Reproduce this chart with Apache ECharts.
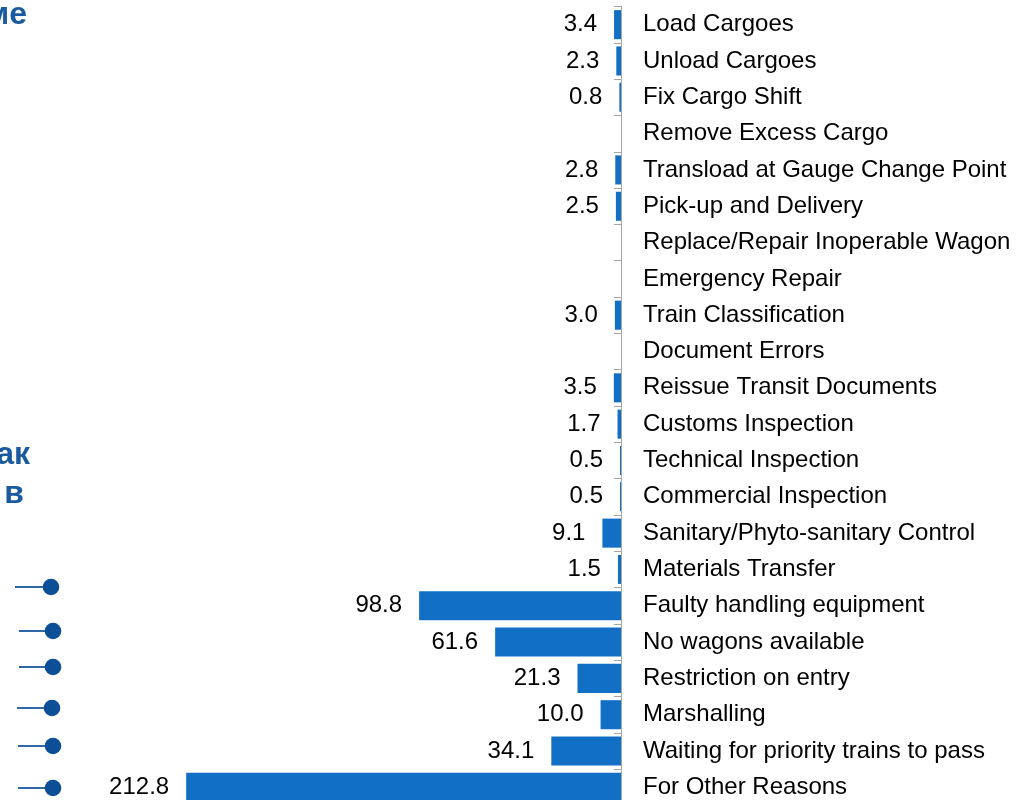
<!DOCTYPE html>
<html>
<head>
<meta charset="utf-8">
<script src="https://cdn.jsdelivr.net/npm/echarts@6/dist/echarts.min.js"></script>
<style>
html,body{margin:0;padding:0;background:#fff;overflow:hidden;}
#chart{width:1033px;height:830px;}
</style>
</head>
<body>
<div id="chart"></div>
<script>
const categories = [
  "Load Cargoes",
  "Unload Cargoes",
  "Fix Cargo Shift",
  "Remove Excess Cargo",
  "Transload at Gauge Change Point",
  "Pick-up and Delivery",
  "Replace/Repair Inoperable Wagon",
  "Emergency Repair",
  "Train Classification",
  "Document Errors",
  "Reissue Transit Documents",
  "Customs Inspection",
  "Technical Inspection",
  "Commercial Inspection",
  "Sanitary/Phyto-sanitary Control",
  "Materials Transfer",
  "Faulty handling equipment",
  "No wagons available",
  "Restriction on entry",
  "Marshalling",
  "Waiting for priority trains to pass",
  "For Other Reasons"
];
const values = [3.4, 2.3, 0.8, null, 2.8, 2.5, null, null, 3.0, null, 3.5, 1.7, 0.5, 0.5, 9.1, 1.5, 98.8, 61.6, 21.3, 10.0, 34.1, 212.8];
const sideTexts = ["ме", "ак", "в"];

const chart = echarts.init(document.getElementById('chart'));
const blue = '#0d4f96';
const sideFont = 'bold 32px "Liberation Sans", Arial, sans-serif';
const sidePos = [[27, 15], [30, 455], [24, 494]];
const dotYs = [587, 631, 667, 708, 746, 788];
const dotXs = [51, 53, 53, 52, 53, 53];
const lineStarts = [15, 19, 19, 17, 18, 18];
const graphics = [];
sideTexts.forEach((t, i) => {
  graphics.push({type:'text', x: sidePos[i][0], y: sidePos[i][1],
    style:{text:t, fill:'#1a5a9e', font: sideFont, align:'right', verticalAlign:'middle'}});
});
dotYs.forEach((y, i) => {
  graphics.push({type:'line', shape:{x1:lineStarts[i], y1:y, x2:dotXs[i], y2:y}, style:{stroke:'#2e68a6', lineWidth:2}});
  graphics.push({type:'circle', shape:{cx:dotXs[i], cy:y, r:8.3}, style:{fill:blue}});
});

chart.setOption({
  animation: false,
  backgroundColor: '#ffffff',
  graphic: graphics,
  grid: {left: 8, width: 613, top: 6.5, height: 799, containLabel: false},
  xAxis: {
    type: 'value', inverse: true, min: 0, max: 300,
    show: false
  },
  yAxis: {
    type: 'category', data: categories, inverse: true, position: 'right',
    axisLine: {show: true, lineStyle: {color: '#a6a6a6', width: 1}},
    axisTick: {show: true, inside: true, length: 7, lineStyle: {color: '#a6a6a6'}},
    axisLabel: {
      margin: 22, color: '#000', fontSize: 24,
      fontFamily: '"Liberation Sans", Arial, sans-serif'
    },
    splitLine: {show: false}
  },
  series: [{
    type: 'bar', data: values, barCategoryGap: '20%',
    itemStyle: {color: '#1170c6'},
    label: {
      show: true, position: 'left', distance: 17,
      color: '#000', fontSize: 24,
      fontFamily: '"Liberation Sans", Arial, sans-serif',
      formatter: p => (p.value == null ? '' : Number(p.value).toFixed(1))
    }
  }]
});
</script>
</body>
</html>
